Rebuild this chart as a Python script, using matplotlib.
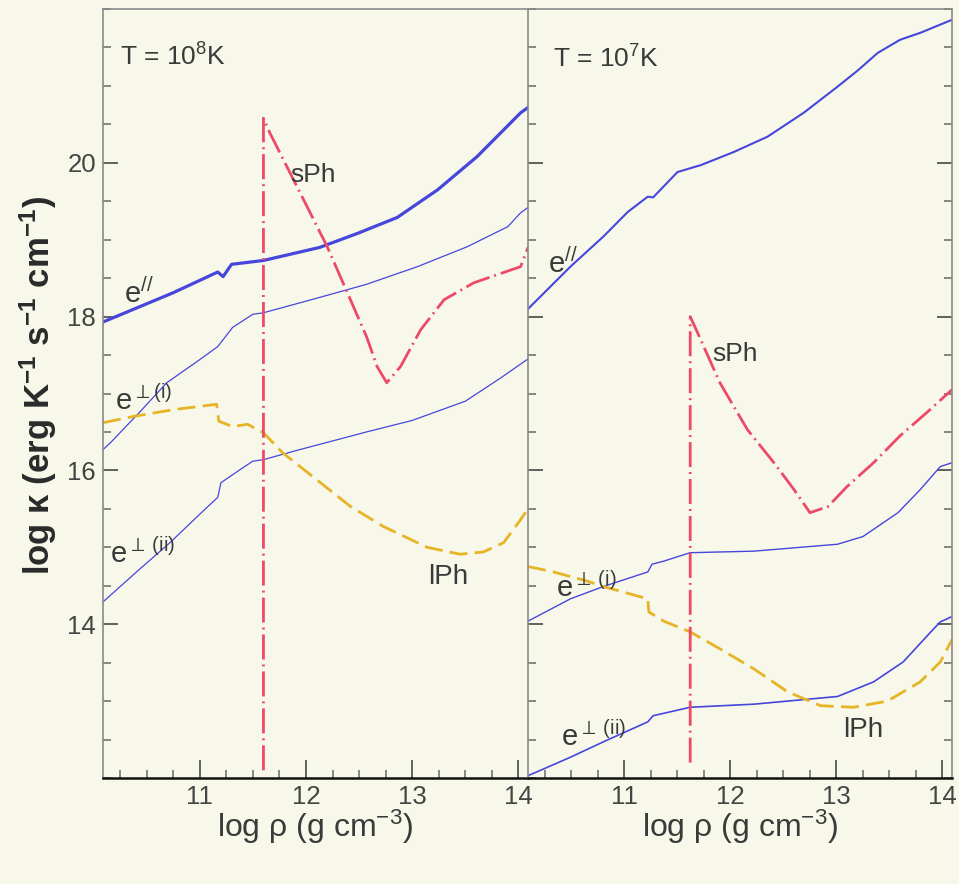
import numpy as np
import matplotlib.pyplot as plt
from matplotlib.ticker import MultipleLocator

plt.rcParams['font.family'] = ['Liberation Sans', 'DejaVu Sans']
plt.rcParams['mathtext.default'] = 'regular'

# T = 10^8 K panel
epar8_x = [10.09, 10.75, 11.17, 11.22, 11.3, 11.6, 12.13, 12.5, 12.86, 13.24, 13.61, 14.02, 14.09]
epar8_y = [17.93, 18.31, 18.58, 18.52, 18.68, 18.73, 18.9, 19.09, 19.29, 19.65, 20.08, 20.65, 20.72]
eperpi8_x = [10.09, 10.16, 10.43, 10.69, 11.0, 11.17, 11.31, 11.5, 11.6, 12.13, 12.57, 13.05, 13.52, 13.9, 14.02, 14.09]
eperpi8_y = [16.27, 16.36, 16.75, 17.14, 17.44, 17.61, 17.86, 18.03, 18.05, 18.25, 18.42, 18.65, 18.91, 19.17, 19.35, 19.42]
eperpii8_x = [10.09, 10.43, 10.72, 11.0, 11.17, 11.2, 11.38, 11.5, 11.6, 11.94, 12.57, 13.0, 13.5, 13.83, 14.09]
eperpii8_y = [14.29, 14.71, 15.06, 15.43, 15.65, 15.84, 16.01, 16.12, 16.14, 16.27, 16.5, 16.65, 16.9, 17.2, 17.45]
sph8_x = [11.6, 11.6, 11.66, 11.85, 12.04, 12.2, 12.39, 12.57, 12.67, 12.76, 12.89, 13.08, 13.3, 13.58, 14.02, 14.09]
sph8_y = [12.1, 20.58, 20.39, 19.87, 19.35, 18.91, 18.31, 17.74, 17.35, 17.14, 17.35, 17.83, 18.22, 18.44, 18.65, 18.9]
lph8_x = [10.09, 10.37, 10.75, 11.16, 11.18, 11.31, 11.45, 11.6, 11.78, 12.1, 12.42, 12.73, 13.14, 13.45, 13.67, 13.86, 14.02, 14.09]
lph8_y = [16.62, 16.7, 16.79, 16.86, 16.64, 16.57, 16.6, 16.49, 16.23, 15.88, 15.53, 15.27, 15.0, 14.91, 14.94, 15.06, 15.36, 15.5]

# T = 10^7 K panel
epar7_x = [10.09, 10.49, 10.8, 11.03, 11.22, 11.27, 11.5, 11.72, 12.03, 12.35, 12.69, 13.01, 13.2, 13.39, 13.6, 13.79, 14.09]
epar7_y = [18.1, 18.65, 19.04, 19.36, 19.56, 19.55, 19.88, 19.97, 20.14, 20.34, 20.65, 20.99, 21.2, 21.43, 21.6, 21.69, 21.86]
eperpi7_x = [10.09, 10.49, 10.8, 11.22, 11.26, 11.37, 11.62, 12.22, 13.01, 13.25, 13.58, 13.79, 13.98, 14.09]
eperpi7_y = [14.04, 14.33, 14.49, 14.68, 14.78, 14.82, 14.93, 14.95, 15.04, 15.14, 15.45, 15.75, 16.05, 16.1]
eperpii7_x = [10.09, 10.49, 10.8, 11.22, 11.27, 11.62, 12.22, 13.01, 13.35, 13.63, 13.89, 13.98, 14.09]
eperpii7_y = [12.03, 12.27, 12.47, 12.73, 12.81, 12.92, 12.96, 13.06, 13.25, 13.51, 13.9, 14.03, 14.1]
sph7_x = [11.62, 11.62, 11.69, 11.9, 12.16, 12.41, 12.6, 12.75, 12.92, 13.1, 13.35, 13.6, 13.85, 14.09]
sph7_y = [12.2, 18.0, 17.79, 17.14, 16.53, 16.1, 15.75, 15.45, 15.53, 15.79, 16.1, 16.45, 16.75, 17.05]
lph7_x = [10.09, 10.33, 10.65, 10.8, 11.22, 11.23, 11.37, 11.62, 11.9, 12.22, 12.54, 12.85, 13.16, 13.48, 13.79, 13.98, 14.09]
lph7_y = [14.75, 14.68, 14.56, 14.49, 14.33, 14.16, 14.04, 13.9, 13.68, 13.42, 13.12, 12.94, 12.92, 13.0, 13.25, 13.51, 13.8]

bg = '#f8f8ea'
blue = '#4646dc'
red = '#ec4a66'
yellow = '#e6b424'
txt = '#3a3a3a'

fig = plt.figure(figsize=(9.59, 8.84), dpi=100, facecolor=bg)
ax1 = fig.add_axes([0.1074, 0.1199, 0.4432, 0.8699])
ax2 = fig.add_axes([0.5506, 0.1199, 0.4421, 0.8699], sharey=ax1)

red_ls = (0, (9, 1.8, 0.7, 1.8))
yel_ls = (0, (6.5, 2.6))

# left panel
ax1.plot(epar8_x, epar8_y, color=blue, lw=2.3)
ax1.plot(eperpi8_x, eperpi8_y, color=blue, lw=0.9)
ax1.plot(eperpii8_x, eperpii8_y, color=blue, lw=0.9)
ax1.plot(lph8_x, lph8_y, color=yellow, lw=2.0, linestyle=yel_ls)
ax1.plot(sph8_x, sph8_y, color=red, lw=2.0, linestyle=red_ls)

# right panel
ax2.plot(epar7_x, epar7_y, color=blue, lw=1.5)
ax2.plot(eperpi7_x, eperpi7_y, color=blue, lw=1.0)
ax2.plot(eperpii7_x, eperpii7_y, color=blue, lw=1.2)
ax2.plot(lph7_x, lph7_y, color=yellow, lw=2.0, linestyle=yel_ls)
ax2.plot(sph7_x, sph7_y, color=red, lw=2.0, linestyle=red_ls)

for ax in (ax1, ax2):
    ax.set_facecolor(bg)
    ax.set_xlim(10.09, 14.09)
    ax.set_ylim(12, 22)
    ax.xaxis.set_major_locator(MultipleLocator(1))
    ax.xaxis.set_minor_locator(MultipleLocator(0.25))
    ax.yaxis.set_major_locator(MultipleLocator(2))
    ax.yaxis.set_minor_locator(MultipleLocator(0.5))
    ax.tick_params(which='major', direction='in', length=11, width=1.3, color='#555555',
                   labelsize=18.5, labelcolor='#444444', pad=5)
    ax.tick_params(which='minor', direction='in', length=6, width=1.1, color='#666666')
    ax.tick_params(axis='x', which='major', length=13)
    for s in ('left', 'right', 'top'):
        ax.spines[s].set_color('#8a8a8a')
        ax.spines[s].set_linewidth(1.2)
    ax.spines['bottom'].set_color('#111111')
    ax.spines['bottom'].set_linewidth(1.8)
    ax.set_xlabel(r'log $\rho$ (g cm$^{-3}$)', fontsize=23, color=txt, labelpad=-1)

ax1.set_yticks([14, 16, 18, 20])
ax1.tick_params(axis='y', which='both', left=True, right=False)
ax2.tick_params(axis='y', which='both', left=True, right=True, labelleft=False)
ax1.spines['right'].set_visible(False)

fig.text(0.040, 0.564, r'log $\kappa$ (erg K$^{-1}$ s$^{-1}$ cm$^{-1}$)', rotation=90,
         ha='center', va='center', fontsize=25, fontweight='bold', color='#2a2a2a')

# annotations, left
ax1.text(0.04, 0.937, r'T = 10$^{8}$K', transform=ax1.transAxes, fontsize=19, color=txt, va='center')
ax1.text(11.85, 19.84, 'sPh', fontsize=19, color=txt, va='center')
ax1.text(10.29, 18.18, r'e$^{//}$', fontsize=21, color=txt, va='baseline')
ax1.text(10.2, 16.79, r'e$^{\perp(i)}$', fontsize=21, color=txt, va='baseline')
ax1.text(10.16, 14.8, r'e$^{\perp\,(ii)}$', fontsize=21, color=txt, va='baseline')
ax1.text(13.15, 14.61, 'lPh', fontsize=20, color=txt, va='center')

# annotations, right
ax2.text(0.059, 0.935, r'T = 10$^{7}$K', transform=ax2.transAxes, fontsize=19, color=txt, va='center')
ax2.text(11.83, 17.51, 'sPh', fontsize=19, color=txt, va='center')
ax2.text(10.28, 18.57, r'e$^{//}$', fontsize=21, color=txt, va='baseline')
ax2.text(10.35, 14.35, r'e$^{\perp\,(i)}$', fontsize=21, color=txt, va='baseline')
ax2.text(10.4, 12.42, r'e$^{\perp\,(ii)}$', fontsize=21, color=txt, va='baseline')
ax2.text(13.06, 12.62, 'lPh', fontsize=20, color=txt, va='center')

fig.savefig('out.png', dpi=100, facecolor=bg)
